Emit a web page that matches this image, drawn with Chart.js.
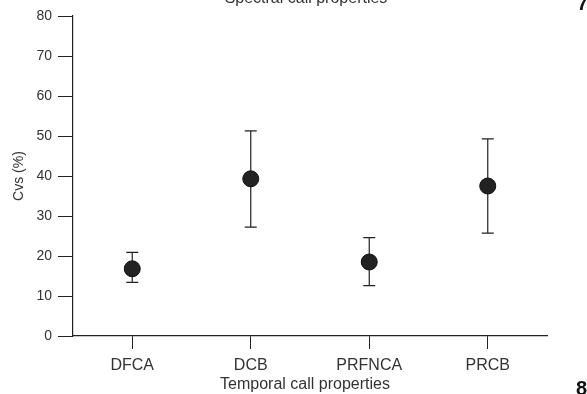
<!DOCTYPE html>
<html>
<head>
<meta charset="utf-8">
<script src="https://cdn.jsdelivr.net/npm/chart.js@4.4.1/dist/chart.umd.min.js"></script>
<style>
  html, body { margin: 0; padding: 0; background: #fff; }
  #wrap { position: relative; width: 587px; height: 394px; overflow: hidden; }
  canvas { display: block; }
</style>
</head>
<body>
<div id="wrap"><canvas id="chart" width="587" height="394"></canvas></div>
<script>
// ---- data ----
const categories = ['DFCA', 'DCB', 'PRFNCA', 'PRCB'];
const meanCv     = [16.8, 39.3, 18.5, 37.5];
const upperCv    = [20.9, 51.3, 24.6, 49.3];
const lowerCv    = [13.4, 27.2, 12.6, 25.7];
const yTicks     = [0, 10, 20, 30, 40, 50, 60, 70, 80];

const INK = '#222';
const FONT = 'Arial, "Liberation Sans", sans-serif';

// Error bars — vertical whisker + caps, drawn under the points
const errorBars = {
  id: 'errorBars',
  beforeDatasetsDraw(chart) {
    const { ctx, scales: { x, y } } = chart;
    ctx.save();
    ctx.strokeStyle = INK;
    ctx.lineWidth = 1.2;
    categories.forEach((c, i) => {
      const px = x.getPixelForValue(i);
      const top = y.getPixelForValue(upperCv[i]);
      const bot = y.getPixelForValue(lowerCv[i]);
      ctx.beginPath();
      ctx.moveTo(px, top); ctx.lineTo(px, bot);
      ctx.moveTo(px - 6, top); ctx.lineTo(px + 6, top);
      ctx.moveTo(px - 6, bot); ctx.lineTo(px + 6, bot);
      ctx.stroke();
    });
    ctx.restore();
  }
};

// Titles (slightly left of the axis centre in the original) and the
// cut-off neighbouring panel numbers at the edges of the crop
const edgeText = {
  id: 'edgeText',
  afterDraw(chart) {
    const { ctx } = chart;
    ctx.save();
    ctx.fillStyle = '#333';
    ctx.textAlign = 'center';
    ctx.textBaseline = 'alphabetic';
    ctx.font = '16px ' + FONT;
    ctx.fillText('Spectral call properties', 306, 3);
    ctx.fillText('Temporal call properties', 305, 389);
    ctx.textAlign = 'left';
    ctx.font = 'bold 20px ' + FONT;
    ctx.fillStyle = '#111';
    ctx.fillText('7', 577, 10);
    ctx.fillText('8', 576, 395);
    ctx.restore();
  }
};

new Chart(document.getElementById('chart'), {
  type: 'line',
  data: {
    labels: categories,
    datasets: [{
      data: meanCv,
      showLine: false,
      pointRadius: 8,
      pointHoverRadius: 8,
      pointBackgroundColor: INK,
      pointBorderColor: '#111',
      pointBorderWidth: 1,
    }]
  },
  options: {
    responsive: false,
    animation: false,
    events: [],
    layout: { padding: { top: 16, right: 40, left: 0, bottom: 0 } },
    plugins: { legend: { display: false }, tooltip: { enabled: false } },
    scales: {
      x: {
        type: 'category',
        offset: true,
        afterFit: s => { s.height = 58; },
        grid: { display: true, drawOnChartArea: false, drawTicks: true, tickLength: 13, tickColor: INK, offset: false },
        border: { color: INK, width: 1.2 },
        ticks: { color: '#333', font: { family: FONT, size: 16 }, padding: 7 },
      },
      y: {
        min: 0, max: 80,
        afterFit: s => { s.width = 73; },
        afterBuildTicks: s => { s.ticks = yTicks.map(v => ({ value: v })); },
        grid: { display: true, drawOnChartArea: false, drawTicks: true, tickLength: 15, tickColor: INK },
        border: { color: INK, width: 1.2 },
        ticks: { color: '#333', font: { family: FONT, size: 14 }, padding: 6 },
        title: { display: true, text: 'Cvs (%)', color: '#333', font: { family: FONT, size: 14 }, padding: { top: 11, bottom: 0 } },
      }
    }
  },
  plugins: [errorBars, edgeText]
});
</script>
</body>
</html>
